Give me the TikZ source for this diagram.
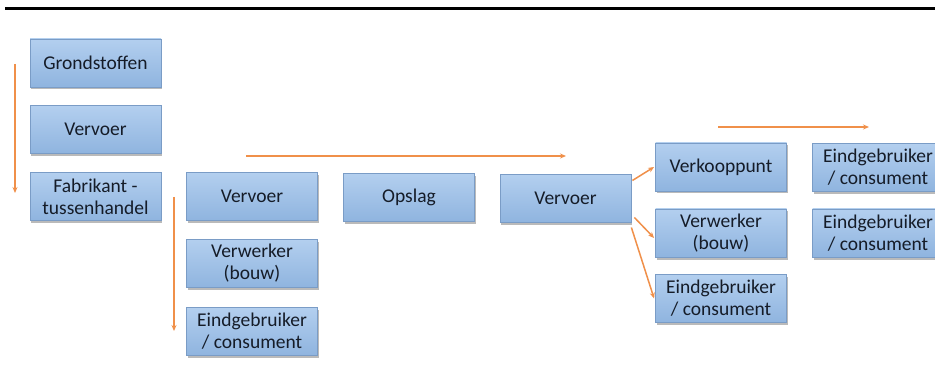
\documentclass[tikz,border=0pt]{standalone}
\usepackage{fontspec}
\setmainfont{Carlito}
\usetikzlibrary{arrows.meta,shadows}
\definecolor{boxtop}{HTML}{B3CFEF}
\definecolor{boxbot}{HTML}{8FB4DF}
\definecolor{boxline}{HTML}{7A9CC6}
\definecolor{txt}{HTML}{151C28}
\definecolor{arr}{HTML}{F0904A}
\tikzset{
  box/.style={draw=boxline, line width=0.8pt, top color=boxtop, bottom color=boxbot,
    minimum width=131pt, minimum height=48pt, inner sep=1pt, align=center,
    text=txt, font=\fontsize{19.5}{22}\selectfont,
    drop shadow={shadow xshift=1pt, shadow yshift=-2.5pt, fill=black!60, opacity=0.45}},
  flow/.style={draw=arr, line width=1.5pt, -{Stealth[length=6pt,width=5pt]}}
}
\begin{document}
\begin{tikzpicture}[x=1pt,y=-1pt]
\useasboundingbox (0,0) rectangle (935,385);
\fill[white] (0,0) rectangle (935,385);
\coordinate (tl) at (5,9);
\coordinate (tr) at (935,9);
\draw[line width=3pt] (tl) -- (tr);
% column 1
\node[box] (g) at (95.5,63) {Grondstoffen};
\node[box] (v1) at (95.5,129.5) {Vervoer};
\node[box] (f) at (95.5,196.5) {Fabrikant -\\tussenhandel};
% column 2
\node[box] (v2) at (252,196.5) {Vervoer};
\node[box] (w2) at (252,263.5) {Verwerker\\(bouw)};
\node[box] (e2) at (252,331.5) {Eindgebruiker\\/ consument};
% opslag
\node[box] (o) at (409,197.5) {Opslag};
% vervoer 3
\node[box] (v3) at (565.5,198.5) {Vervoer};
% fan-out
\node[box] (k) at (721,167) {Verkooppunt};
\node[box] (w3) at (721,233) {Verwerker\\(bouw)};
\node[box] (e3) at (721,298.5) {Eindgebruiker\\/ consument};
% right column
\node[box] (r1) at (878,167.5) {Eindgebruiker\\/ consument};
\node[box] (r2) at (878,233) {Eindgebruiker\\/ consument};
% arrows
\coordinate (a1s) at (15,64);
\coordinate (a1e) at (15,193);
\draw[flow] (a1s) -- (a1e);
\coordinate (a2s) at (174,197);
\coordinate (a2e) at (174,331);
\draw[flow] (a2s) -- (a2e);
\coordinate (a3s) at (246,156);
\coordinate (a3e) at (566,156);
\draw[flow] (a3s) -- (a3e);
\coordinate (a4s) at (718,127);
\coordinate (a4e) at (869,127);
\draw[flow] (a4s) -- (a4e);
\coordinate (b1) at ([xshift=1pt,yshift=18pt]v3.east);
\coordinate (b2) at ([xshift=3pt,yshift=-19pt]v3.east);
\coordinate (b3) at ([xshift=0pt,yshift=-29pt]v3.east);
\draw[flow] (b1) -- ([xshift=-1pt]k.west);
\draw[flow] (b2) -- ([xshift=-1pt,yshift=-5pt]w3.west);
\draw[flow] (b3) -- ([xshift=-1pt]e3.west);
\end{tikzpicture}
\end{document}
